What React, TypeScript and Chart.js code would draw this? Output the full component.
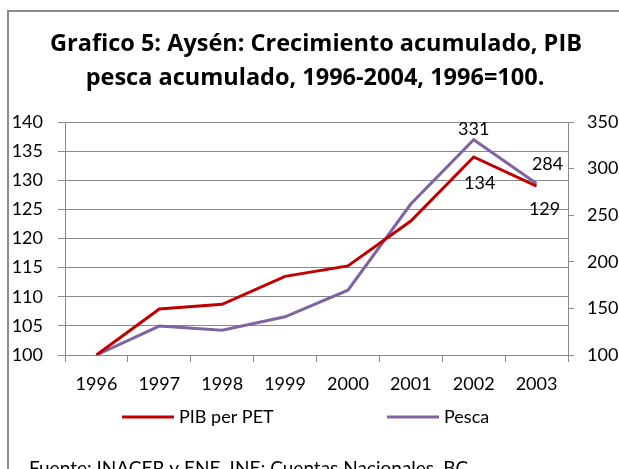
import React, { useEffect, useRef } from "react";
import { Chart, registerables } from "chart.js";

Chart.register(...registerables);

const years = ["1996", "1997", "1998", "1999", "2000", "2001", "2002", "2003"];
const pibPerPet = [100, 107.9, 108.7, 113.5, 115.3, 123.0, 134, 129];
const pesca = [100, 131, 126.5, 141, 169.5, 262, 331, 284];
const seriesNames = ["PIB per PET", "Pesca"];
const titleLines = [
  "Grafico 5: Aysén: Crecimiento acumulado, PIB",
  "pesca acumulado, 1996-2004, 1996=100.",
];
const sourceNote = "Fuente: INACER y ENE, INE; Cuentas Nacionales, BC.";
// points that carry a value label: [datasetIndex, pointIndex]
const labeledPoints = [
  [1, 6],
  [1, 7],
  [0, 6],
  [0, 7],
];

const RED = "#C00000";
const PURPLE = "#8064A2";
const GRID = "#898989";
const FONT = "Lato, 'Open Sans', sans-serif";
const TITLE_FONT = "'Open Sans', 'Noto Sans', sans-serif";

const labelOffsets: Record<string, [number, number]> = {
  "1-6": [0, -11],
  "1-7": [11, -19],
  "0-6": [6, 26],
  "0-7": [8, 23],
};

const decorPlugin = {
  id: "decor",
  beforeDraw(chart: any) {
    const ctx = chart.ctx;
    ctx.save();
    ctx.fillStyle = "#ffffff";
    ctx.fillRect(0, 0, chart.width, chart.height);
    ctx.strokeStyle = "#8c8c8c";
    ctx.lineWidth = 2;
    ctx.beginPath();
    ctx.moveTo(8, chart.height + 5);
    ctx.lineTo(8, 11);
    ctx.lineTo(chart.width + 5, 11);
    ctx.stroke();
    // title
    ctx.fillStyle = "#000000";
    ctx.font = `bold 23.5px ${TITLE_FONT}`;
    ctx.textAlign = "center";
    ctx.textBaseline = "middle";
    ctx.fillText(titleLines[0], 316, 44);
    ctx.fillText(titleLines[1], 315, 78);
    ctx.restore();
  },
  afterDraw(chart: any) {
    const ctx = chart.ctx;
    ctx.save();
    // data labels
    ctx.fillStyle = "#000000";
    ctx.font = `18px ${FONT}`;
    ctx.textAlign = "center";
    ctx.textBaseline = "middle";
    labeledPoints.forEach(([ds, i]) => {
      const el = chart.getDatasetMeta(ds).data[i];
      const v = chart.data.datasets[ds].data[i] as number;
      const off = labelOffsets[`${ds}-${i}`] || [0, -10];
      ctx.fillText(String(Math.round(v)), el.x + off[0], el.y + off[1]);
    });
    // legend
    const items = [
      { text: seriesNames[0], color: RED, x: 122 },
      { text: seriesNames[1], color: PURPLE, x: 387 },
    ];
    ctx.textAlign = "left";
    items.forEach((it) => {
      ctx.strokeStyle = it.color;
      ctx.lineWidth = 3;
      ctx.beginPath();
      ctx.moveTo(it.x, 417);
      ctx.lineTo(it.x + 52, 417);
      ctx.stroke();
      ctx.fillText(it.text, it.x + 57, 417);
    });
    // source
    ctx.font = `19px ${FONT}`;
    ctx.fillText(sourceNote, 29, 469);
    ctx.restore();
  },
};

export default function App() {
  const ref = useRef<HTMLCanvasElement | null>(null);
  useEffect(() => {
    document.body.style.overflow = "hidden";
    const chart = new Chart(ref.current as HTMLCanvasElement, {
      type: "line",
      data: {
        labels: years,
        datasets: [
          {
            label: seriesNames[0],
            data: pibPerPet,
            borderColor: RED,
            backgroundColor: RED,
            borderWidth: 3,
            pointRadius: 0,
            tension: 0,
            yAxisID: "y",
          },
          {
            label: seriesNames[1],
            data: pesca,
            borderColor: PURPLE,
            backgroundColor: PURPLE,
            borderWidth: 3,
            pointRadius: 0,
            tension: 0,
            yAxisID: "y1",
          },
        ],
      },
      options: {
        animation: false,
        responsive: false,
        maintainAspectRatio: false,
        layout: { padding: { top: 122, left: 0, right: 0, bottom: 0 } },
        plugins: {
          legend: { display: false },
          title: { display: false },
          tooltip: { enabled: false },
        },
        scales: {
          x: {
            offset: true,
            grid: {
              drawOnChartArea: false,
              color: GRID,
              tickLength: 7,
              offset: true,
            },
            border: { color: GRID, width: 1 },
            ticks: { color: "#000", font: { family: FONT, size: 18 }, padding: 11, maxRotation: 0 },
            afterFit: (s: any) => {
              s.height = 114;
            },
          },
          y: {
            position: "left",
            min: 100,
            max: 140,
            ticks: { stepSize: 5, color: "#000", font: { family: FONT, size: 18 }, padding: 15 },
            grid: { color: GRID, tickLength: 7 },
            border: { color: GRID, width: 1 },
            afterFit: (s: any) => {
              s.width = 65;
            },
          },
          y1: {
            position: "right",
            min: 100,
            max: 350,
            ticks: { stepSize: 50, color: "#000", font: { family: FONT, size: 18 }, padding: 13 },
            grid: { drawOnChartArea: false, color: GRID, tickLength: 6 },
            border: { color: GRID, width: 1 },
            afterFit: (s: any) => {
              s.width = 51;
            },
          },
        },
      },
      plugins: [decorPlugin],
    });
    return () => chart.destroy();
  }, []);
  return (
    <div style={{ position: "fixed", left: 0, top: 0, width: 619, height: 469 }}>
      <canvas ref={ref} width={619} height={469} style={{ width: 619, height: 469, display: "block" }} />
    </div>
  );
}
